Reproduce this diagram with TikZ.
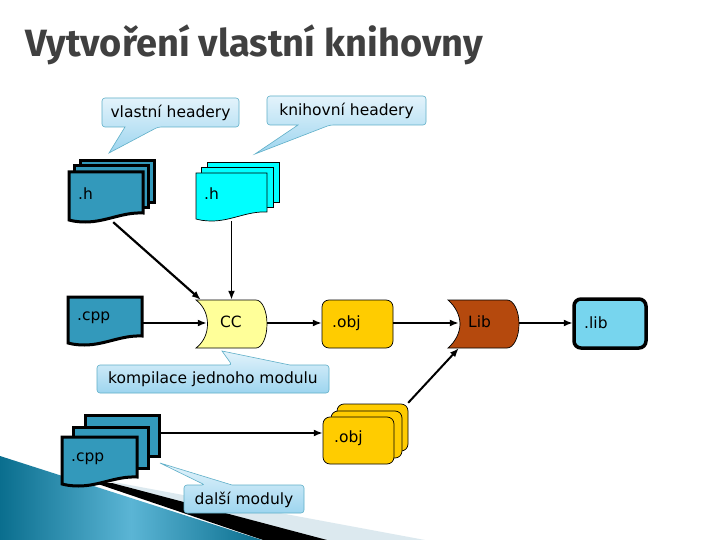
\documentclass[tikz,border=0pt]{standalone}
\usepackage{fontspec}
\setmainfont{DejaVu Sans}
\newfontfamily\titlefont{Fira Sans}
\usepackage{tikz}
\usetikzlibrary{positioning,arrows.meta,calc}
\definecolor{doccol}{HTML}{3399BB}
\definecolor{cyancol}{HTML}{00FFFF}
\definecolor{objcol}{HTML}{FFCC00}
\definecolor{cccol}{HTML}{FFFF99}
\definecolor{libcol}{HTML}{B5490D}
\definecolor{outcol}{HTML}{77D5EE}
\definecolor{bubbleedge}{HTML}{5FAFC8}
\definecolor{bubbletop}{HTML}{E3F3FB}
\definecolor{bubblelow}{HTML}{9DD5EF}
\definecolor{tealdark}{HTML}{0A6E8E}
\definecolor{teallight}{HTML}{5BB5D5}
\definecolor{bandcol}{HTML}{DCE9EF}
\tikzset{
  conn/.style={line width=1.8pt,-{Latex[length=9pt,width=7pt]}},
  label/.style={font=\fontsize{15.5}{17}\selectfont,inner sep=0pt,text=black},
  bubble/.style={draw=bubbleedge,line width=0.6pt,top color=bubbletop,bottom color=bubblelow},
  spot/.style={inner sep=0pt,minimum size=0pt}
}
% page of a document: x, y, width, height
\newcommand{\docpath}[4]{(#1,#2) -- ++(#3,0) -- ++(0,#4-9)
  .. controls (#1+0.72*#3,#2+#4-10) and (#1+0.5*#3,#2+#4) .. (#1+0.22*#3,#2+#4)
  .. controls (#1+0.12*#3,#2+#4) and (#1+0.05*#3,#2+#4-1) .. (#1,#2+#4-2) -- cycle}
\begin{document}
\begin{tikzpicture}[x=1pt,y=-1pt]
    \useasboundingbox (0,0) rectangle (720,540);
    \fill[white] (0,0) rectangle (720,540);
    % slide corner
    \fill[bandcol] (108,481) -- (425,540) -- (300,540) -- cycle;
    \fill[black] (95,483) -- (112,483) -- (327,540) -- (263,540) -- cycle;
    \shade[left color=tealdark,right color=tealdark,middle color=teallight] (0,456) -- (262,540) -- (0,540) -- cycle;
    % title
    \node[anchor=base west,font=\titlefont\fontsize{38}{40}\bfseries\selectfont,text=black!75,inner sep=0pt] (title) at (25,57) {Vytvoření vlastní knihovny};
    % bubbles
    \draw[bubble,rounded corners=3pt] (102,98) -- (239,98) -- (239,127) -- (158,127) [sharp corners] -- (109,153) -- (125,127) [rounded corners=3pt] -- (102,127) -- cycle;
    \draw[bubble,rounded corners=3pt] (267,96) -- (426,96) -- (426,125) -- (330,125) [sharp corners] -- (255,154) -- (298,125) [rounded corners=3pt] -- (267,125) -- cycle;
    \draw[bubble,rounded corners=3pt] (97,365) -- (232,365) [sharp corners] -- (222,351) -- (290,365) [rounded corners=3pt] -- (329,365) -- (329,393) -- (97,393) -- cycle;
    \draw[bubble,rounded corners=3pt] (184,485) -- (205,485) [sharp corners] -- (160,463) -- (232,485) [rounded corners=3pt] -- (304,485) -- (304,513) -- (184,513) -- cycle;
    \node[label] (ownbubble) at (170.5,112.5) {vlastní headery};
    \node[label] (libbubble) at (346.5,110.5) {knihovní headery};
    \node[label] (onebubble) at (213,379.5) {kompilace jednoho modulu};
    \node[label] (morebubble) at (244,499.5) {další moduly};
    % document stacks
    \foreach \x/\y/\w/\h in {80/161/74/42, 74/166/74/42} {
      \draw[fill=doccol,line width=3pt] (\x,\y) rectangle ++(\w,\h);
    }
    \draw[fill=doccol,line width=3pt] \docpath{69}{172}{74}{50};
    \foreach \x/\y/\w/\h in {207/162/72/40, 201/167/72/40} {
      \draw[fill=cyancol,line width=0.7pt] (\x,\y) rectangle ++(\w,\h);
    }
    \draw[fill=cyancol,line width=0.7pt] \docpath{196}{173}{71}{48};
    \draw[fill=doccol,line width=3pt] \docpath{68}{297}{74}{48};
    \foreach \x/\y/\w/\h in {85/415/74/41, 73/427/75/41} {
      \draw[fill=doccol,line width=3pt] (\x,\y) rectangle ++(\w,\h);
    }
    \draw[fill=doccol,line width=3pt] \docpath{62}{437}{75}{49};
    % object stack
    \foreach \x/\y in {337/404, 331/411, 323/417} {
      \draw[fill=objcol,line width=0.7pt,rounded corners=7pt] (\x,\y) rectangle ++(71,47);
    }
    % shapes of the tools
    \draw[fill=cccol,line width=0.7pt] (196,300) -- (256,300) arc[start angle=90,end angle=-90,x radius=11,y radius=-24] -- (196,348) .. controls (204,342) and (207.5,333) .. (207.5,324) .. controls (207.5,315) and (204,306) .. (196,300) -- cycle;
    \draw[fill=libcol,line width=0.7pt] (448,300) -- (507,300) arc[start angle=90,end angle=-90,x radius=12,y radius=-24] -- (448,348) .. controls (455,342) and (460,333) .. (460,324) .. controls (460,315) and (455,306) .. (448,300) -- cycle;
    \draw[fill=objcol,line width=0.7pt,rounded corners=7pt] (322,300) rectangle (393,348);
    \draw[fill=outcol,line width=3.5pt,rounded corners=7pt] (574,299) rectangle (646,348);
    % named places and texts
    \node[spot,minimum width=74pt,minimum height=50pt] (hown) at (106,197) {};
    \node[spot,minimum width=71pt,minimum height=48pt] (hlib) at (231.5,197) {};
    \node[spot,minimum width=74pt,minimum height=48pt] (cppone) at (105,321) {};
    \node[spot,minimum width=60pt,minimum height=48pt] (cc) at (237,324) {};
    \node[spot,minimum width=71pt,minimum height=48pt] (objone) at (357.5,324) {};
    \node[spot,minimum width=60pt,minimum height=48pt] (lib) at (489,324) {};
    \node[spot,minimum width=74pt,minimum height=50pt] (libout) at (610,323.5) {};
    \node[spot,minimum width=74pt,minimum height=41pt] (cppmore) at (122,433) {};
    \node[spot,minimum width=85pt,minimum height=60pt] (objmore) at (365.5,433) {};
    \node[label,anchor=west] (hownlabel) at (78,194) {.h};
    \node[label,anchor=west] (hliblabel) at (204,194) {.h};
    \node[label,anchor=west] (cpponelabel) at (77,318) {.cpp};
    \node[label] (cclabel) at (231,322) {CC};
    \node[label,anchor=west] (objonelabel) at (332,323) {.obj};
    \node[label,anchor=west] (liblabel) at (468,322) {Lib};
    \node[label,anchor=west] (liboutlabel) at (584,323) {.lib};
    \node[label,anchor=west] (cppmorelabel) at (71,459) {.cpp};
    \node[label,anchor=west] (objmorelabel) at (334,438) {.obj};
    % connectors
    \draw[conn,line width=2.2pt] (hown.-74) -- ($(cc.north west)+(-6,0)$);
    \draw[conn] (hlib.south) -- (hlib.south |- cc.north);
    \draw[conn] (cppone.east |- 0,323) -- (cc.west |- 0,323);
    \draw[conn] (267,323) -- (objone.west |- 0,323);
    \draw[conn] (objone.east |- 0,323) -- (lib.west |- 0,323);
    \draw[conn] (519,323) -- (libout.west |- 0,323);
    \draw[conn] (cppmore.east) -- (objmore.west);
    \draw[conn,line width=2pt] (objmore.north east) -- (lib.south west);
\end{tikzpicture}
\end{document}
